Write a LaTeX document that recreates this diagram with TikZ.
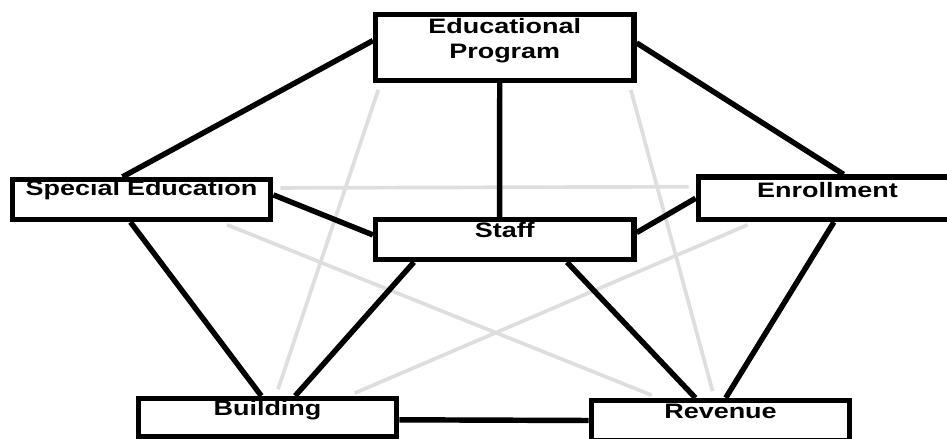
\documentclass[tikz,border=0pt]{standalone}
\usepackage{fontspec}
\setmainfont{Liberation Sans}[FakeStretch=1.29]
\usepackage{tikz}
\usetikzlibrary{shapes,arrows}

\begin{document}
\begin{tikzpicture}[x=0.02cm, y=-0.02cm,
    font=\fontsize{11.9}{14.7}\selectfont\bfseries]
  \tikzstyle{block} = [rectangle, draw, line width=3pt, fill=white,
    text width=5.17cm, text centered, inner sep=0pt,
    text height=0.35cm, text depth=0.45cm]
  \tikzstyle{line} = [draw, line width=3.1pt]
  \tikzstyle{weak} = [draw, line width=2.1pt, color=black!13,
    shorten <=4pt, shorten >=4pt]

  \useasboundingbox (0,0) rectangle (947,439);

  % Place nodes
  \node [block, text height=0.37cm, text depth=0.95cm] (ep) at (504.75,47.5)
    {Educational\\Program};
  \node [block, text height=0.31cm, text depth=0.49cm] (se) at (141.5,199.5)
    {Special Education};
  \node [block, text height=0.4cm] (en) at (827.5,198.25) {Enrollment};
  \node [block] (staff) at (504.75,239.5) {Staff};
  \node [block, text height=0.33cm, text depth=0.43cm] (bu) at (267.5,417.5)
    {Building};
  \node [block] (re) at (720.5,420.5) {Revenue};

  % Draw edges
  \path [weak] (ep.196) -- (bu.69);
  \path [weak] (ep.344) -- (re.105);
  \path [weak] (se.5) -- (en.175);
  \path [weak] (se.344) -- (re.160);
  \path [weak] (en.198) -- (bu.15);

  \path [line] (ep.177) -- (se.130);
  \path [line] (ep.2) -- (en.56);
  \path [line] (ep.262) -- (staff.103);
  \path [line] (se.2) -- (staff.178);
  \path [line] (en.west) -- (staff.3);
  \path [line] (se.244) -- (bu.106);
  \path [line] (staff.194) -- (bu.38);
  \path [line] (staff.340) -- (re.138);
  \path [line] (en.285) -- (re.77);
  \path [line] (bu.359) -- (re.west);

\end{tikzpicture}
\end{document}
